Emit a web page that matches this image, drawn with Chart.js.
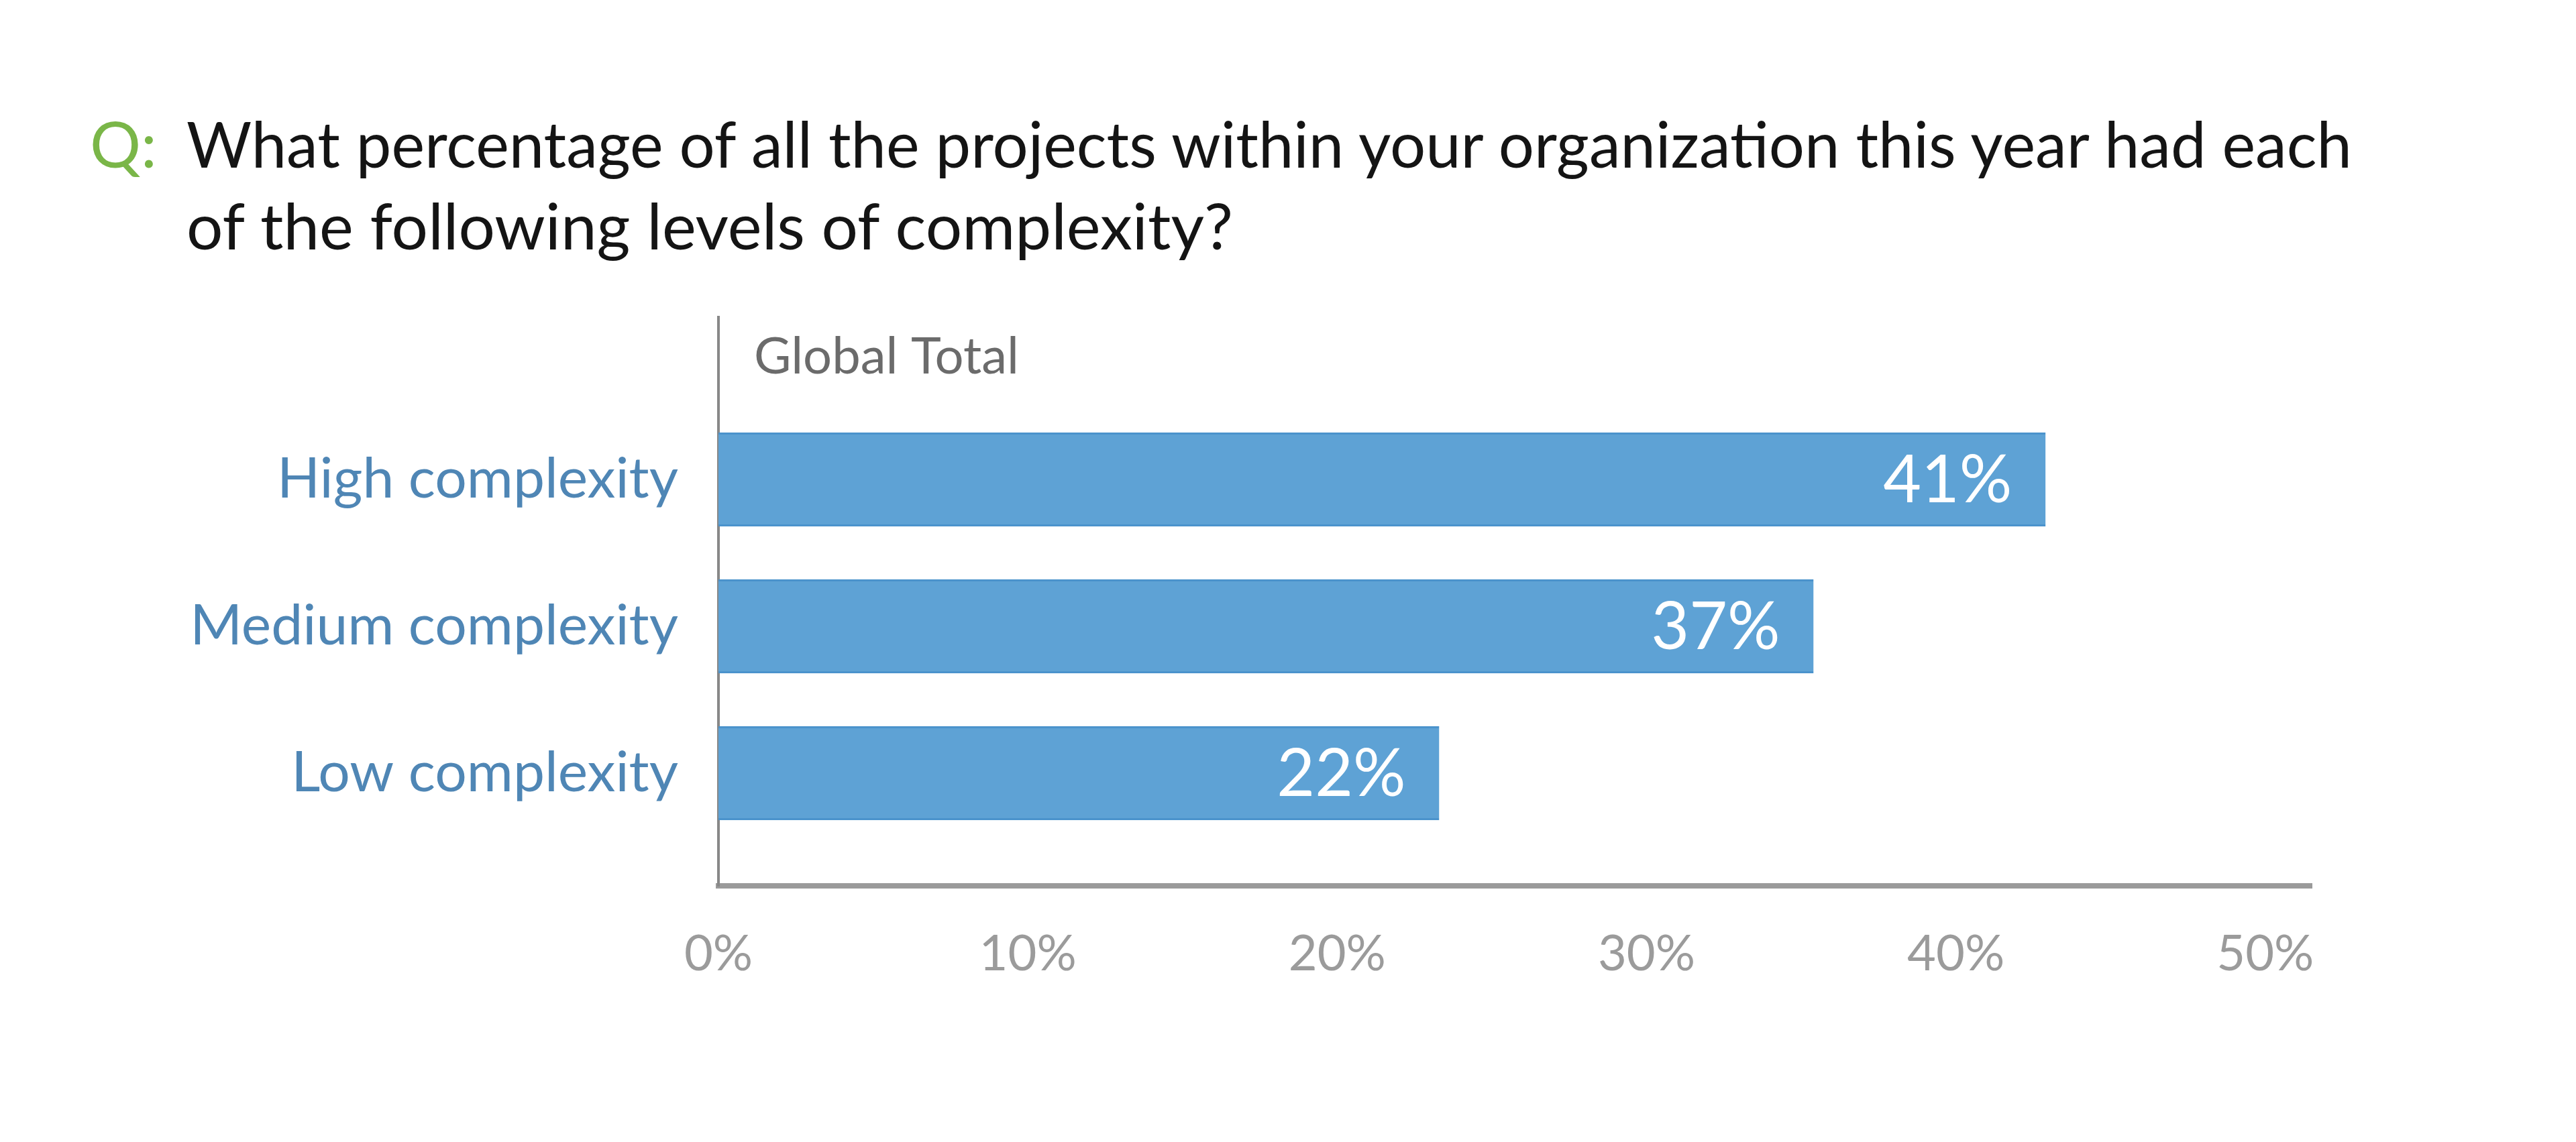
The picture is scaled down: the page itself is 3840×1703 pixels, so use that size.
<!DOCTYPE html>
<html>
<head>
<meta charset="utf-8">
<script src="https://cdn.jsdelivr.net/npm/chart.js@4.4.1/dist/chart.umd.min.js"></script>
<style>
  html, body { margin: 0; padding: 0; background: #fff; }
  #wrap { position: relative; width: 3840px; height: 1703px; }
  #chart { position: absolute; left: 0; top: 0; }
  .q { position: absolute; left: 134px; top: 152px; font: 95px/122px Lato, sans-serif; color: #7ab648; }
  .title { position: absolute; left: 278px; top: 152px; font: 95px/122px Lato, sans-serif; color: #141414; }
  .title span { display: block; white-space: nowrap; transform-origin: 0 0; width: max-content; }
</style>
</head>
<body>
<div id="wrap">
  <canvas id="chart" width="3840" height="1703"></canvas>
  <div class="q">Q:</div>
  <div class="title">
    <span id="line1">What percentage of all the projects within your organization this year had each</span>
    <span id="line2">of the following levels of complexity?</span>
  </div>
</div>
<script>
// Data
const categories = ['High complexity', 'Medium complexity', 'Low complexity'];
// bar ends as drawn, read against the x axis (the artwork runs slightly off the printed values)
const barLengths = [42.9, 35.4, 23.3];
const valueLabels = ['41%', '37%', '22%'];
const xTicks = [0, 10, 20, 30, 40, 50];
const panelLabel = 'Global Total';

const FONT = 'Lato, sans-serif';

// squeeze the title lines to the width they take in the reference
const fitLine = (id, target) => {
  const el = document.getElementById(id);
  const w = el.getBoundingClientRect().width;
  el.style.transform = `scaleX(${target / w})`;
};
fitLine('line1', 3228);
fitLine('line2', 1560);

// white value text inside the bar ends
const valueLabelPlugin = {
  id: 'valueLabels',
  afterDatasetsDraw(chart) {
    const { ctx } = chart;
    const meta = chart.getDatasetMeta(0);
    ctx.save();
    ctx.fillStyle = '#ffffff';
    ctx.font = `98px ${FONT}`;
    ctx.textAlign = 'right';
    ctx.textBaseline = 'middle';
    meta.data.forEach((bar, i) => {
      ctx.fillText(valueLabels[i], bar.x - 50, bar.y + 2);
    });
    ctx.restore();
  }
};

// "Global Total" header in the top left of the plot
const panelLabelPlugin = {
  id: 'panelLabel',
  afterDraw(chart) {
    const { ctx, chartArea } = chart;
    ctx.save();
    ctx.fillStyle = '#6b6b6b';
    ctx.font = `76px ${FONT}`;
    ctx.textAlign = 'left';
    ctx.textBaseline = 'alphabetic';
    ctx.fillText(panelLabel, chartArea.left + 53, chartArea.top + 84);
    ctx.restore();
  }
};

new Chart(document.getElementById('chart'), {
  type: 'bar',
  data: {
    datasets: [{
      data: barLengths.map((v, i) => ({ x: v, y: i })),
      backgroundColor: '#5ea2d5',
      borderColor: '#4b93cc',
      borderWidth: { top: 3, bottom: 3, left: 0, right: 0 },
      borderSkipped: 'left',
      barPercentage: 0.64,
      categoryPercentage: 1
    }]
  },
  options: {
    indexAxis: 'y',
    responsive: false,
    animation: false,
    layout: { padding: { left: 0, top: 473, right: 394, bottom: 0 } },
    plugins: {
      legend: { display: false },
      tooltip: { enabled: false },
      title: { display: false }
    },
    scales: {
      x: {
        type: 'linear',
        min: 0,
        max: 51.5,
        afterBuildTicks: s => { s.ticks = xTicks.map(v => ({ value: v })); },
        afterFit: s => { s.height = 382; },
        grid: { display: false, drawTicks: false },
        border: { color: '#9a9a9a', width: 8 },
        ticks: {
          callback: v => v + '%',
          color: '#9b9b9b',
          font: { family: FONT, size: 74 },
          padding: 58,
          maxRotation: 0
        }
      },
      y: {
        type: 'linear',
        reverse: true,
        offset: false,
        min: -1.105,
        max: 2.767,
        afterBuildTicks: s => { s.ticks = categories.map((c, i) => ({ value: i })); },
        afterFit: s => { s.width = 1071; },
        grid: { display: false, drawTicks: false, offset: false },
        border: { color: '#888888', width: 4 },
        ticks: {
          callback: v => categories[v],
          color: '#4f86b5',
          font: { family: FONT, size: 84 },
          padding: 60
        }
      }
    }
  },
  plugins: [valueLabelPlugin, panelLabelPlugin]
});
</script>
</body>
</html>
